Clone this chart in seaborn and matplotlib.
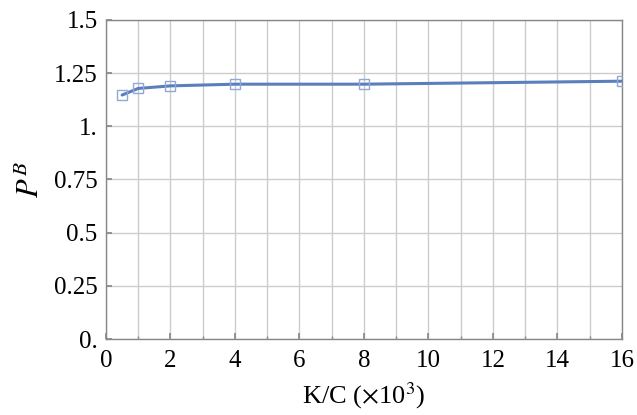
import matplotlib
matplotlib.use("Agg")
import matplotlib.pyplot as plt
import seaborn as sns
import pandas as pd

kc = [0.5, 1, 2, 4, 8, 16]
pb = [1.147, 1.178, 1.19, 1.198, 1.198, 1.212]
yticks = [0, 0.25, 0.5, 0.75, 1.0, 1.25, 1.5]
ytick_labels = ["0.", "0.25", "0.5", "0.75", "1.", "1.25", "1.5"]
xticks = [0, 2, 4, 6, 8, 10, 12, 14, 16]

sns.set_theme(style="white")
plt.rcParams['font.family'] = ['Liberation Serif', 'DejaVu Serif']
plt.rcParams['mathtext.fontset'] = 'stix'
plt.rcParams['text.color'] = 'black'
plt.rcParams['axes.labelcolor'] = 'black'
plt.rcParams['xtick.labelcolor'] = 'black'
plt.rcParams['ytick.labelcolor'] = 'black'

df = pd.DataFrame({"kc": kc, "pb": pb})
fig = plt.figure(figsize=(6.37, 4.15), dpi=100)
ax = fig.add_axes([0.1664, 0.183, 0.81, 0.769])

line_col = "#5b7fbc"
sns.lineplot(data=df, x="kc", y="pb", ax=ax, color=line_col, linewidth=2.2,
             marker="s", markersize=7.5, markerfacecolor="none",
             markeredgecolor="#8fa8d4", markeredgewidth=1.0, zorder=3)

ax.set_xlim(0, 16)
ax.set_ylim(0, 1.5)
ax.set_xticks(xticks)
ax.set_xticks(range(0, 17), minor=True)
ax.set_yticks(yticks)
ax.set_yticklabels(ytick_labels)
ax.grid(True, which="both", axis="x", color="#cccccc", linewidth=1.0)
ax.grid(True, which="major", axis="y", color="#cccccc", linewidth=1.0)
ax.tick_params(axis="both", which="both", direction="in", length=4, color="#888888",
               labelsize=18, labelcolor="black", bottom=True, left=True)
ax.tick_params(axis="x", which="major", pad=8)
ax.tick_params(axis="y", which="major", pad=6)
ax.tick_params(axis="both", which="minor", length=2.5)
for s in ax.spines.values():
    s.set_color("#888888")
    s.set_linewidth(1.0)

ax.set_xlabel(r"K/C ($\times$10$^3$)", fontsize=19, labelpad=6, color="black")
ax.set_ylabel(r"$P^B$", fontsize=22, labelpad=6, color="black")

fig.savefig("out.png", dpi=100)
